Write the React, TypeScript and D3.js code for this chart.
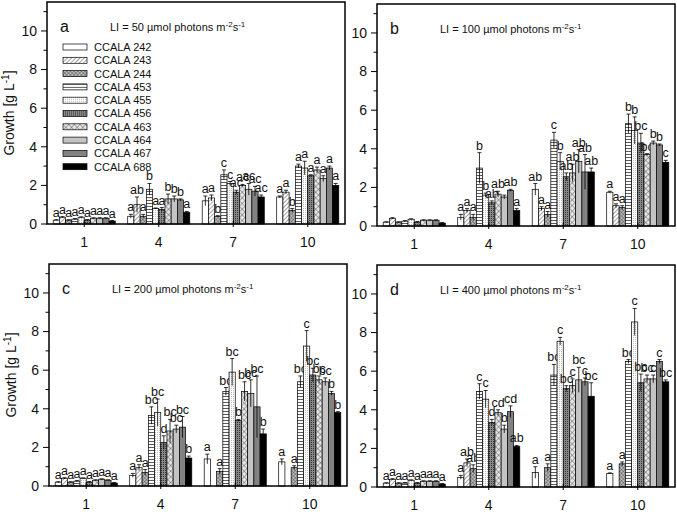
import * as d3 from 'd3'

// Strains and sampling days
const strains = ['CCALA 242', 'CCALA 243', 'CCALA 244', 'CCALA 453', 'CCALA 455', 'CCALA 456', 'CCALA 463', 'CCALA 464', 'CCALA 467', 'CCALA 688']
const days = [1, 4, 7, 10]
const yTicks = [0, 2, 4, 6, 8, 10]
const yMinorTicks = [1, 3, 5, 7, 9, 11]

// Growth (g/L), rows = days, columns = strains; null = not measured
const meansA = [
  [0.2, 0.35, 0.2, 0.25, 0.35, 0.2, 0.3, 0.3, 0.3, 0.15],
  [0.4, 1.0, 0.4, 1.8, 0.8, 0.75, 1.3, 1.3, 1.25, 0.6],
  [1.2, 1.35, 0.4, 2.55, 2.1, 1.65, 2.0, 1.8, 1.7, 1.4],
  [1.4, 1.65, 0.7, 3.0, 2.9, 2.5, 2.8, 2.35, 2.9, 2.0],
]
const sdsA = [
  [0.02, 0.03, 0.02, 0.03, 0.02, 0.03, 0.02, 0.02, 0.02, 0.03],
  [0.1, 0.4, 0.1, 0.3, 0.03, 0.1, 0.25, 0.15, 0.05, 0.05],
  [0.25, 0.15, 0.03, 0.25, 0.1, 0.1, 0.05, 0.3, 0.25, 0.1],
  [0.05, 0.1, 0.1, 0.1, 0.35, 0.05, 0.15, 0.15, 0.1, 0.1],
]
const lettersA = [
  ['a', 'a', 'a', 'a', 'a', 'a', 'a', 'a', 'a', 'a'],
  ['a', 'ab', 'a', 'b', 'a', 'a', 'b', 'b', 'b', 'a'],
  ['a', 'a', 'b', 'c', 'c', 'ac', 'ac', 'ac', 'ac', 'ac'],
  ['a', 'a', 'b', 'a', 'a', 'a', 'a', 'a', 'a', 'a'],
]

const meansB = [
  [0.2, 0.4, 0.2, 0.25, 0.35, 0.2, 0.3, 0.3, 0.3, 0.15],
  [0.45, 0.8, 0.45, 3.0, 1.6, 1.2, 1.65, 1.5, 1.85, 0.8],
  [1.9, 0.9, 0.6, 4.45, 3.35, 2.55, 2.75, 3.35, 2.8, 2.8],
  [1.75, 1.05, 0.95, 5.3, 4.95, 4.3, 3.7, 4.3, 4.2, 3.3],
]
const sdsB = [
  [0.02, 0.03, 0.02, 0.03, 0.02, 0.03, 0.02, 0.02, 0.02, 0.03],
  [0.15, 0.1, 0.15, 0.8, 0.1, 0.1, 0.15, 0.1, 0.05, 0.1],
  [0.3, 0.1, 0.15, 0.4, 0.45, 0.2, 0.45, 0.6, 0.9, 0.2],
  [0.05, 0.1, 0.1, 0.5, 0.7, 0.5, 0.05, 0.1, 0.05, 0.1],
]
const lettersB = [
  ['', '', '', '', '', '', '', '', '', ''],
  ['a', 'a', 'a', 'b', 'b', 'ab', 'ab', '', 'ab', 'a'],
  ['ab', 'a', 'a', 'c', 'b', 'ab', 'ab', 'ab', 'ab', 'ab'],
  ['a', 'a', 'a', 'b', 'b', 'bc', 'bc', 'b', 'b', 'c'],
]

const meansC = [
  [0.2, 0.4, 0.2, 0.25, 0.4, 0.2, 0.3, 0.35, 0.3, 0.15],
  [0.55, 0.95, 0.7, 3.65, 3.8, 2.25, 2.85, 2.95, 3.05, 1.45],
  [1.4, null, 0.75, 4.9, 5.9, 3.4, 4.9, 4.8, 4.1, 2.7],
  [1.25, null, 0.95, 5.4, 7.25, 5.75, 5.5, 5.4, 4.8, 3.8],
]
const sdsC = [
  [0.02, 0.03, 0.02, 0.03, 0.02, 0.03, 0.02, 0.02, 0.02, 0.03],
  [0.1, 0.15, 0.15, 0.45, 0.7, 0.35, 0.6, 0.2, 0.55, 0.1],
  [0.25, 0, 0.15, 0.2, 0.7, 0.05, 0.5, 0.7, 1.6, 0.25],
  [0.15, 0, 0.1, 0.3, 0.8, 0.35, 0.2, 0.2, 0.1, 0.05],
]
const lettersC = [
  ['a', 'a', 'a', 'a', 'a', 'a', 'a', 'a', 'a', 'a'],
  ['a', 'a', 'a', 'bc', 'bc', 'd', 'bc', 'bc', 'bc', 'b'],
  ['a', '', 'a', 'bc', 'bc', 'b', 'bc', 'bc', 'bc', 'b'],
  ['a', '', 'a', 'bc', 'c', 'bc', 'bc', 'bc', 'b', 'b'],
]

const meansD = [
  [0.2, 0.4, 0.2, 0.2, 0.35, 0.2, 0.3, 0.3, 0.3, 0.15],
  [0.5, 1.25, 0.95, 4.95, 4.55, 3.35, 3.85, 3.0, 3.9, 2.1],
  [0.75, null, 1.0, 5.8, 7.55, 5.1, 5.25, 5.55, 5.45, 4.7],
  [0.7, null, 1.2, 6.5, 8.55, 5.4, 5.6, 5.6, 6.5, 5.45],
]
const sdsD = [
  [0.02, 0.03, 0.02, 0.03, 0.02, 0.03, 0.02, 0.02, 0.02, 0.03],
  [0.1, 0.2, 0.2, 0.4, 0.45, 0.15, 0.15, 0.2, 0.3, 0.05],
  [0.3, 0, 0.2, 0.55, 0.2, 0.15, 0.35, 0.65, 0.2, 0.7],
  [0.03, 0, 0.1, 0.1, 0.7, 0.45, 0.2, 0.2, 0.1, 0.1],
]
const lettersD = [
  ['a', 'a', 'a', 'a', 'a', 'a', 'a', 'a', 'a', 'a'],
  ['a', 'ab', 'ab', 'c', 'c', 'd', 'cd', 'b', 'cd', 'ab'],
  ['a', '', 'a', 'bc', 'c', 'bc', 'c', 'bc', 'c', 'bc'],
  ['a', '', 'a', 'bc', 'c', 'bc', 'bc', 'c', 'c', 'bc'],
]

const fills = ['#ffffff', 'url(#p243)', 'url(#p244)', 'url(#p453)', 'url(#p455)', 'url(#p456)', 'url(#p463)', '#c4c4c4', '#828282', '#000000']

const W = 298
const H = 222
const FONT = 'Arial, "Liberation Sans", sans-serif'

const x = d3.scaleLinear().domain([-0.5, 11.5]).range([0, W])
const y = d3.scaleLinear().domain([0, 11.5]).range([H, 0])
const offset = d3.scaleBand<string>().domain(strains).range([-1.25, 1.25])
const barW = x(offset.bandwidth()) - x(0)

function Patterns() {
  return (
    <defs>
      <pattern id="p243" width={3} height={3} patternUnits="userSpaceOnUse" patternTransform="rotate(45)">
        <rect width={3} height={3} fill="#fff" />
        <line x1={0} y1={0} x2={0} y2={3} stroke="#333" strokeWidth={0.9} />
      </pattern>
      <pattern id="p244" width={2.6} height={2.6} patternUnits="userSpaceOnUse" patternTransform="rotate(45)">
        <rect width={2.6} height={2.6} fill="#bbb" />
        <line x1={0} y1={0} x2={0} y2={2.6} stroke="#333" strokeWidth={0.7} />
        <line x1={0} y1={0} x2={2.6} y2={0} stroke="#333" strokeWidth={0.7} />
      </pattern>
      <pattern id="p453" width={3} height={3} patternUnits="userSpaceOnUse">
        <rect width={3} height={3} fill="#fff" />
        <line x1={0} y1={0.5} x2={3} y2={0.5} stroke="#333" strokeWidth={0.8} />
      </pattern>
      <pattern id="p455" width={2} height={2} patternUnits="userSpaceOnUse">
        <rect width={2} height={2} fill="#fff" />
        <rect x={0} y={0} width={0.8} height={0.8} fill="#999" />
      </pattern>
      <pattern id="p456" width={2} height={2} patternUnits="userSpaceOnUse">
        <rect width={2} height={2} fill="#888" />
        <rect x={0} y={0} width={1} height={1} fill="#333" />
      </pattern>
      <pattern id="p463" width={4} height={4} patternUnits="userSpaceOnUse" patternTransform="rotate(45)">
        <rect width={4} height={4} fill="#e6e6e6" />
        <line x1={0} y1={0} x2={0} y2={4} stroke="#555" strokeWidth={0.9} />
        <line x1={0} y1={0} x2={4} y2={0} stroke="#555" strokeWidth={0.9} />
      </pattern>
    </defs>
  )
}

interface PanelProps {
  left: number
  top: number
  tag: string
  light: string
  means: (number | null)[][]
  sds: number[][]
  letters: string[][]
  yLabel?: boolean
  legend?: boolean
}

function Panel({ left, top, tag, light, means, sds, letters, yLabel, legend }: PanelProps) {
  return (
    <g transform={`translate(${left},${top})`} fontFamily={FONT}>
      {/* bars, error bars and significance letters */}
      {days.map((day, di) =>
        strains.map((s, si) => {
          const v = means[di][si]
          if (v == null) return null
          const bx = x(day + (offset(s) as number))
          const cx = bx + barW / 2
          const sd = sds[di][si]
          const hi = y(v + sd)
          const lo = y(Math.max(0, v - sd))
          return (
            <g key={`${day}-${s}`}>
              <rect x={bx} y={y(v)} width={barW} height={H - y(v)} fill={fills[si]} stroke="#000" strokeWidth={0.7} />
              <line x1={cx} x2={cx} y1={hi} y2={lo} stroke="#000" strokeWidth={0.8} />
              <line x1={cx - 2} x2={cx + 2} y1={hi} y2={hi} stroke="#000" strokeWidth={0.8} />
              {letters[di][si] && (
                <text x={cx} y={hi - 3} textAnchor="middle" fontSize={12.5} fill="#111">
                  {letters[di][si]}
                </text>
              )}
            </g>
          )
        })
      )}

      {/* frame */}
      <rect x={0} y={0} width={W} height={H} fill="none" stroke="#000" strokeWidth={1.5} />

      {/* y axis */}
      {yTicks.map(t => (
        <g key={t} transform={`translate(0,${y(t)})`}>
          <line x1={-6} x2={0} stroke="#000" strokeWidth={1} />
          <text x={-10} dy="0.35em" textAnchor="end" fontSize={14} fill="#111">{t}</text>
        </g>
      ))}
      {yMinorTicks.map(t => (
        <line key={t} x1={-3.5} x2={0} y1={y(t)} y2={y(t)} stroke="#000" strokeWidth={1} />
      ))}

      {/* x axis */}
      {days.map(d => (
        <g key={d} transform={`translate(${x(d)},${H})`}>
          <line y1={-3} y2={3} stroke="#000" strokeWidth={1} />
          <text y={23} textAnchor="middle" fontSize={14} fill="#111">{d}</text>
        </g>
      ))}

      {yLabel && (
        <text transform={`translate(-33,${H / 2}) rotate(-90)`} textAnchor="middle" fontSize={14} fill="#111">
          Growth [g  L<tspan baselineShift="super" fontSize={10}>-1</tspan>]
        </text>
      )}

      <text x={13} y={30} fontSize={16} fill="#111">{tag}</text>
      <text x={63} y={29} fontSize={11} fill="#111">
        LI = {light} µmol photons m<tspan baselineShift="super" fontSize={8}>-2</tspan>s<tspan baselineShift="super" fontSize={8}>-1</tspan>
      </text>

      {legend && strains.map((s, i) => (
        <g key={s} transform={`translate(16,${42 + i * 13.3})`}>
          <rect x={0} y={0} width={24} height={6} fill={fills[i]} stroke="#000" strokeWidth={0.7} />
          <text x={31} y={3} dy="0.36em" fontSize={11} fill="#111">{s}</text>
        </g>
      ))}
    </g>
  )
}

export default function App() {
  return (
    <svg width={677} height={512} style={{ position: 'absolute', left: 0, top: 0, background: '#fff' }}>
      <Patterns />
      <Panel left={47} top={2} tag="a" light="50" means={meansA} sds={sdsA} letters={lettersA} yLabel legend />
      <Panel left={377} top={4} tag="b" light="100" means={meansB} sds={sdsB} letters={lettersB} />
      <Panel left={49} top={264} tag="c" light="200" means={meansC} sds={sdsC} letters={lettersC} yLabel />
      <Panel left={377} top={265} tag="d" light="400" means={meansD} sds={sdsD} letters={lettersD} />
    </svg>
  )
}
